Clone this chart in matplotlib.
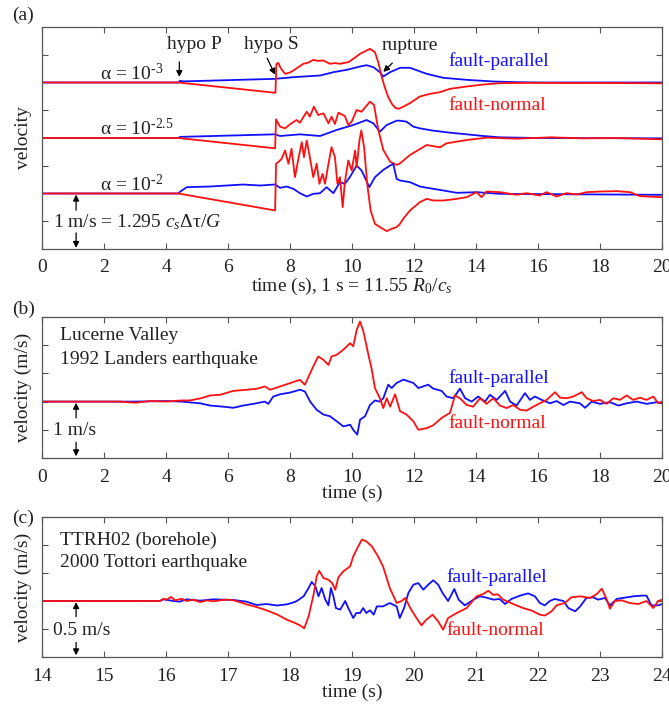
import numpy as np
import matplotlib
matplotlib.use("Agg")
import matplotlib.pyplot as plt

plt.rcParams['font.family'] = ['Liberation Serif', 'DejaVu Serif']
plt.rcParams['mathtext.fontset'] = 'custom'
plt.rcParams['mathtext.rm'] = 'Liberation Serif'
plt.rcParams['mathtext.it'] = 'Liberation Serif:italic'

RED = '#ff1010'
BLUE = '#1010ff'
INK = '#222222'

# ---------------- panel (a): simulated, offsets of 3, 2, 1 per alpha ----------------
a_offsets = [3, 2, 1]
a_labels = [r'α = 10$^{\text{-3}}$', r'α = 10$^{\text{-2.5}}$', r'α = 10$^{\text{-2}}$']

a3_normal_t = [0, 4.4, 7.53, 7.56, 7.62, 7.7, 7.84, 8.0, 8.11, 8.43, 8.6, 8.75, 8.9, 9.07, 9.29, 9.45,
               9.61, 9.88, 10.05, 10.26, 10.45, 10.58, 10.74, 10.85, 10.96, 11.06, 11.17, 11.28, 11.39,
               11.5, 11.62, 11.87, 12.19, 12.52, 12.84, 13.16, 13.7, 14.24, 14.77, 15.85, 17.0, 18.5, 20.0]
a3_normal_v = [0, 0, -0.186, 0.33, 0.355, 0.26, 0.156, 0.18, 0.216, 0.337, 0.36, 0.408, 0.39, 0.397,
               0.337, 0.35, 0.337, 0.367, 0.43, 0.517, 0.57, 0.607, 0.547, 0.36, 0.096, -0.09, -0.264,
               -0.38, -0.455, -0.474, -0.445, -0.372, -0.252, -0.204, -0.174, -0.114, -0.072, -0.036,
               -0.012, -0.006, -0.01, -0.01, -0.015]
a3_parallel_t = [0, 4.40, 4.45, 4.55, 7.52, 8.11, 8.97, 9.4, 9.83, 10.26, 10.47, 10.69, 10.9, 11.01,
                 11.23, 11.55, 11.87, 12.41, 12.95, 13.7, 14.56, 15.3, 16.0, 20.0]
a3_parallel_v = [0, 0, 0.03, 0.02, 0.066, 0.096, 0.126, 0.186, 0.228, 0.288, 0.312, 0.276, 0.186, 0.108,
                 0.186, 0.265, 0.265, 0.156, 0.084, 0.048, 0.018, 0.006, 0.0, 0.0]

a25_normal_t = [0, 4.4, 7.52, 7.55, 7.68, 7.84, 8.0, 8.21, 8.32, 8.54, 8.64, 8.77, 8.91, 9.08, 9.24,
                9.34, 9.45, 9.56, 9.77, 9.88, 9.99, 10.15, 10.31, 10.58, 10.71, 10.85, 11.01, 11.23,
                11.44, 11.55, 11.87, 12.41, 12.84, 13.05, 13.7, 14.34, 15.31, 16.4, 17.46, 18.5, 20.0]
a25_normal_v = [0, 0, -0.186, 0.336, 0.204, 0.174, 0.246, 0.324, 0.276, 0.474, 0.384, 0.565, 0.414,
                0.444, 0.264, 0.384, 0.252, 0.456, 0.396, 0.234, 0.294, 0.504, 0.474, 0.655, 0.595,
                0.144, -0.216, -0.426, -0.486, -0.456, -0.306, -0.126, -0.168, -0.096, -0.036, 0.006,
                -0.012, 0.012, -0.006, 0.0, -0.024]
a25_parallel_t = [0, 4.4, 4.45, 7.52, 7.68, 8.32, 8.97, 9.5, 10.04, 10.47, 10.69, 10.9, 11.12, 11.44,
                  11.55, 11.76, 11.98, 12.19, 12.62, 13.16, 13.7, 14.24, 14.77, 16.0, 20.0]
a25_parallel_v = [0, 0, 0.02, 0.066, 0.036, 0.066, 0.036, 0.144, 0.234, 0.324, 0.264, 0.114, 0.234,
                  0.312, 0.312, 0.294, 0.204, 0.174, 0.132, 0.096, 0.066, 0.036, 0.012, 0.0, -0.006]

a2_normal_t = [0, 4.4, 7.52, 7.55, 7.62, 7.73, 7.84, 7.95, 8.05, 8.16, 8.27, 8.38, 8.45, 8.54, 8.64,
               8.75, 8.86, 8.95, 9.05, 9.13, 9.24, 9.34, 9.45, 9.53, 9.61, 9.7, 9.77, 9.88, 9.99,
               10.1, 10.15, 10.24, 10.3, 10.39, 10.49, 10.6, 10.74, 10.9, 11.12, 11.28, 11.44, 11.55,
               11.66, 11.87, 12.19, 12.41, 12.62, 12.95, 13.38, 13.7, 14.02, 14.18, 14.34, 14.77,
               15.31, 15.63, 16.06, 16.28, 16.6, 16.92, 17.25, 17.57, 18.0, 18.54, 18.97, 19.29, 20.0]
a2_normal_v = [0, 0, -0.306, 0.535, 0.565, 0.625, 0.775, 0.535, 0.805, 0.294, 0.625, 0.925, 0.655,
               0.955, 0.655, 0.294, 0.535, 0.175, 0.354, 0.175, 0.535, 0.835, 0.655, 0.175, 0.294,
               -0.246, 0.204, 0.595, 0.414, 0.775, 0.475, 0.955, 1.135, 0.835, 0.175, -0.306,
               -0.546, -0.606, -0.678, -0.636, -0.606, -0.546, -0.45, -0.306, -0.156, -0.096,
               -0.126, -0.126, -0.096, -0.066, 0.024, -0.066, 0.036, 0.024, -0.024, 0.006, -0.036,
               0.024, -0.054, 0.006, -0.018, 0.024, 0.036, 0.042, 0.024, -0.048, -0.066]
a2_parallel_t = [0, 4.4, 4.45, 4.67, 5.42, 5.96, 6.49, 7.03, 7.52, 7.68, 7.89, 8.11, 8.32, 8.54, 8.75,
                 8.97, 9.18, 9.4, 9.61, 9.77, 9.93, 10.15, 10.31, 10.56, 10.74, 11.01, 11.23, 11.33,
                 11.44, 11.55, 11.87, 12.19, 12.62, 12.95, 13.38, 14.02, 14.77, 20.0]
a2_parallel_v = [0, 0, 0.03, 0.114, 0.126, 0.144, 0.162, 0.144, 0.162, 0.102, 0.126, 0.084, 0.006,
                 -0.054, -0.006, 0.006, 0.114, 0.006, 0.204, 0.174, 0.294, 0.504, 0.414, 0.114, 0.294,
                 0.426, 0.504, 0.535, 0.264, 0.234, 0.204, 0.126, 0.084, 0.054, 0.012, 0.024, -0.006,
                 -0.024]

# ---------------- panel (b): Lucerne Valley, 1992 Landers ----------------
b_normal_t = [0, 2.5, 3.0, 3.5, 4.0, 4.5, 4.77, 5.15, 5.42, 5.74, 6.17, 6.6, 6.92, 7.19, 7.36, 7.68,
              8.0, 8.32, 8.48, 8.75, 8.91, 9.08, 9.24, 9.34, 9.51, 9.72, 9.94, 10.04, 10.15, 10.26,
              10.37, 10.53, 10.63, 10.74, 10.9, 11.01, 11.12, 11.23, 11.39, 11.55, 11.76, 11.98,
              12.14, 12.41, 12.62, 12.89, 13.16, 13.32, 13.48, 13.7, 13.91, 14.13, 14.34, 14.56,
              14.77, 14.99, 15.2, 15.42, 15.63, 15.85, 16.06, 16.28, 16.55, 16.71, 16.92, 17.14,
              17.41, 17.57, 17.78, 18.0, 18.21, 18.43, 18.64, 18.86, 19.07, 19.29, 19.5, 19.72,
              19.88, 20.0]
b_normal_v = [0, 0.0, -0.02, 0.01, 0.0, 0.02, 0.02, 0.062, 0.109, 0.12, 0.19, 0.21, 0.227, 0.268,
              0.21, 0.268, 0.327, 0.386, 0.298, 0.623, 0.80, 0.74, 0.65, 0.80, 0.83, 0.92, 1.035,
              0.98, 1.27, 1.42, 1.24, 0.83, 0.59, 0.24, 0.06, -0.115, 0.06, -0.09, 0.13, -0.17,
              -0.23, -0.35, -0.5, -0.47, -0.42, -0.29, -0.2, 0.109, 0.06, -0.06, -0.09, 0.06, -0.04,
              0.06, -0.07, -0.115, -0.06, -0.145, -0.16, -0.09, -0.03, 0.03, 0.167, 0.07, 0.06,
              0.09, 0.167, 0.06, 0.01, 0.03, -0.04, 0.06, 0.03, 0.109, 0.03, 0.07, 0.03, 0.09,
              -0.03, 0.0]
b_parallel_t = [0, 3.0, 4.0, 4.5, 5.1, 5.42, 5.85, 6.17, 6.49, 6.82, 7.19, 7.3, 7.46, 7.68, 8.0, 8.32,
                8.48, 8.65, 8.86, 9.08, 9.29, 9.51, 9.72, 9.94, 10.04, 10.17, 10.26, 10.42, 10.58,
                10.74, 10.9, 11.01, 11.17, 11.28, 11.44, 11.66, 11.82, 11.98, 12.14, 12.19, 12.46,
                12.62, 12.89, 13.05, 13.27, 13.48, 13.65, 13.86, 14.07, 14.29, 14.45, 14.67, 14.94,
                15.1, 15.31, 15.58, 15.74, 15.9, 16.12, 16.39, 16.6, 16.82, 17.03, 17.35, 17.52,
                17.73, 18.0, 18.32, 18.59, 18.86, 19.18, 19.5, 19.83, 20.0]
b_parallel_v = [0, 0.0, 0.01, 0.0, -0.03, -0.07, -0.09, -0.11, -0.07, -0.04, 0.0, -0.04, 0.09, 0.13,
                0.16, 0.21, 0.18, 0.0, -0.145, -0.23, -0.26, -0.35, -0.44, -0.41, -0.5, -0.586,
                -0.32, -0.26, -0.06, 0.02, 0.0, 0.06, 0.30, 0.24, 0.33, 0.39, 0.36, 0.33, 0.24, 0.25,
                0.30, 0.23, 0.19, 0.09, 0.06, 0.23, 0.06, 0.0, 0.09, 0.0, 0.12, 0.03, 0.19, 0.0,
                -0.07, 0.15, 0.03, 0.09, 0.03, -0.03, 0.01, -0.06, 0.0, -0.03, -0.11, 0.0, -0.04,
                -0.01, -0.07, -0.03, 0.0, -0.04, -0.01, -0.03]

# ---------------- panel (c): TTRH02, 2000 Tottori ----------------
c_normal_t = [14, 15.9, 15.96, 16.01, 16.08, 16.15, 16.25, 16.33, 16.44, 16.55, 16.66, 16.76, 16.87,
              16.98, 17.09, 17.19, 17.3, 17.46, 17.62, 17.79, 17.95, 18.08, 18.16, 18.23, 18.3, 18.38,
              18.43, 18.47, 18.54, 18.62, 18.68, 18.73, 18.78, 18.86, 18.97, 19.02, 19.1, 19.16,
              19.23, 19.32, 19.42, 19.5, 19.61, 19.72, 19.8, 19.86, 19.94, 20.04, 20.12, 20.2, 20.3,
              20.39, 20.47, 20.55, 20.69, 20.85, 21.01, 21.12, 21.2, 21.28, 21.35, 21.44, 21.6,
              21.76, 21.9, 22.03, 22.11, 22.22, 22.3, 22.43, 22.54, 22.68, 22.84, 22.95, 23.03,
              23.11, 23.16, 23.24, 23.35, 23.48, 23.62, 23.75, 23.86, 23.94, 24.0]
c_normal_v = [0, 0, 0.02, 0.012, 0.036, 0.006, 0.02, 0.0, 0.012, -0.01, 0.006, -0.003, 0.006, 0.012,
              0.006, -0.01, -0.03, -0.054, -0.083, -0.12, -0.167, -0.196, -0.217, -0.244, -0.137,
              0.057, 0.22, 0.27, 0.205, 0.19, 0.16, 0.1, 0.211, 0.265, 0.31, 0.398, 0.488, 0.548,
              0.533, 0.488, 0.398, 0.31, 0.116, -0.018, 0.0, 0.027, -0.063, -0.152, -0.217, -0.167,
              -0.122, -0.182, -0.256, -0.152, -0.107, -0.063, 0.042, 0.063, 0.092, 0.054, 0.06,
              0.012, -0.027, -0.063, -0.086, -0.122, -0.13, -0.092, -0.039, -0.018, 0.033, 0.042,
              0.027, 0.063, 0.11, 0.012, -0.069, 0.0, 0.006, -0.018, -0.027, 0.0, -0.063, 0.0, 0.012]
c_parallel_t = [14, 15.9, 15.96, 16.12, 16.22, 16.33, 16.55, 16.76, 17.09, 17.3, 17.46, 17.62, 17.79,
                17.95, 18.07, 18.11, 18.22, 18.3, 18.35, 18.41, 18.46, 18.51, 18.57, 18.62, 18.66,
                18.7, 18.74, 18.81, 18.89, 18.94, 19.02, 19.07, 19.13, 19.18, 19.23, 19.29, 19.35,
                19.4, 19.5, 19.61, 19.72, 19.77, 19.84, 19.91, 19.99, 20.07, 20.15, 20.23, 20.31,
                20.39, 20.46, 20.55, 20.65, 20.72, 20.82, 20.96, 21.06, 21.17, 21.28, 21.38, 21.47,
                21.57, 21.71, 21.84, 21.95, 22.03, 22.11, 22.19, 22.27, 22.41, 22.49, 22.6, 22.68,
                22.78, 22.89, 22.97, 23.08, 23.16, 23.27, 23.4, 23.54, 23.67, 23.75, 23.83, 23.94,
                24.0]
c_parallel_v = [0, 0, 0.015, 0.0, -0.006, 0.015, 0.003, 0.015, 0.009, -0.006, -0.036, -0.027, -0.04,
                -0.03, -0.01, 0.0, 0.042, 0.116, 0.17, 0.131, 0.042, 0.116, 0.012, -0.039, 0.116,
                0.042, -0.063, -0.077, 0.0, -0.063, -0.152, -0.107, -0.107, -0.063, -0.107, -0.083,
                -0.122, -0.048, -0.048, -0.018, -0.048, -0.152, -0.063, 0.072, 0.146, 0.16, 0.101,
                0.146, 0.185, 0.146, 0.072, 0.0, 0.107, 0.012, -0.039, 0.012, 0.042, 0.03, 0.012,
                0.018, -0.027, 0.018, 0.048, 0.068, 0.042, -0.018, -0.039, 0.0, 0.018, 0.0, -0.063,
                -0.092, -0.048, 0.027, 0.033, 0.012, 0.027, -0.039, 0.018, 0.03, 0.042, 0.048, 0.048,
                -0.039, -0.039, -0.027]

FS = 14
W, H = 669, 704
fig = plt.figure(figsize=(W / 100, H / 100), dpi=100)


def make_axes(left, top, right, bottom, pad=8):
    ax = fig.add_axes([left / W, 1 - bottom / H, (right - left) / W, (bottom - top) / H])
    for s in ax.spines.values():
        s.set_color('#555555')
        s.set_linewidth(0.9)
    ax.tick_params(direction='in', length=4, width=0.8, color='#555555', top=True, right=True,
                   labelleft=False, labelsize=FS, labelcolor=INK, pad=pad)
    return ax


def arrow(ax, x0, y0, x1, y1):
    ax.annotate('', xy=(x1, y1), xytext=(x0, y0),
                arrowprops=dict(arrowstyle='-|>', color='black', lw=0.9,
                                mutation_scale=9, shrinkA=0, shrinkB=0))


# ---- (a)
ax = make_axes(42, 27, 662, 249, pad=7)
traces = [(a3_normal_t, a3_normal_v, a3_parallel_t, a3_parallel_v),
          (a25_normal_t, a25_normal_v, a25_parallel_t, a25_parallel_v),
          (a2_normal_t, a2_normal_v, a2_parallel_t, a2_parallel_v)]
for off, lab, (nt, nv, pt, pv) in zip(a_offsets, a_labels, traces):
    ax.plot(pt, np.array(pv) + off, color=BLUE, lw=1.3)
    ax.plot(nt, np.array(nv) + off, color=RED, lw=1.3)
    ax.text(1.87, off + 0.17, lab, fontsize=FS, color=INK, va='center', ha='left')
ax.set_xlim(0, 20)
ax.set_ylim(0, 4)
ax.set_xticks(np.arange(0, 21, 2))
ax.set_yticks([0.5, 1.5, 2.5, 3.5])
ax.set_xlabel('time (s), 1 s = 11.55 $R_0/c_s$', fontsize=FS, color=INK, labelpad=0)
ax.text(4.9, 3.68, 'hypo P', fontsize=FS, color=INK, ha='center', va='center')
ax.text(7.4, 3.68, 'hypo S', fontsize=FS, color=INK, ha='center', va='center')
ax.text(11.85, 3.66, 'rupture', fontsize=FS, color=INK, ha='center', va='center')
arrow(ax, 4.43, 3.37, 4.43, 3.1)
arrow(ax, 7.26, 3.44, 7.52, 3.14)
arrow(ax, 11.3, 3.35, 11.01, 3.19)
ax.text(13.1, 3.39, 'fault-parallel', fontsize=FS, color=BLUE, va='center')
ax.text(13.1, 2.58, 'fault-normal', fontsize=FS, color=RED, va='center')
ax.text(0.36, 0.49, '1 m/s = 1.295 $c_s$Δτ/$G$', fontsize=FS, color=INK, va='center')
arrow(ax, 1.1, 0.7, 1.1, 0.98)
arrow(ax, 1.1, 0.29, 1.1, 0.02)
fig.text(12 / W, 1 - 15 / H, '(a)', fontsize=FS, color=INK, va='center')
fig.text(23 / W, 1 - 138 / H, 'velocity', fontsize=FS, color=INK, rotation=90,
         ha='center', va='center')

# ---- (b)
ax = make_axes(42, 317, 662, 458)
ax.plot(b_parallel_t, b_parallel_v, color=BLUE, lw=1.3)
ax.plot(b_normal_t, b_normal_v, color=RED, lw=1.3)
ax.set_xlim(0, 20)
ax.set_ylim(-1, 1.5)
ax.set_xticks(np.arange(0, 21, 2))
ax.set_yticks(np.arange(-1, 1.51, 0.5))
ax.set_xlabel('time (s)', fontsize=FS, color=INK, labelpad=-1)
ax.text(0.58, 1.18, 'Lucerne Valley', fontsize=FS, color=INK, va='center')
ax.text(0.58, 0.75, '1992 Landers earthquake', fontsize=FS, color=INK, va='center')
ax.text(0.36, -0.52, '1 m/s', fontsize=FS, color=INK, va='center')
arrow(ax, 1.1, -0.29, 1.1, -0.02)
arrow(ax, 1.1, -0.72, 1.1, -0.97)
ax.text(13.1, 0.42, 'fault-parallel', fontsize=FS, color=BLUE, va='center')
ax.text(13.1, -0.38, 'fault-normal', fontsize=FS, color=RED, va='center')
fig.text(12 / W, 1 - 309 / H, '(b)', fontsize=FS, color=INK, va='center')
fig.text(23 / W, 1 - 387 / H, 'velocity (m/s)', fontsize=FS, color=INK, rotation=90,
         ha='center', va='center')

# ---- (c)
ax = make_axes(42, 517, 662, 657)
ax.plot(c_parallel_t, c_parallel_v, color=BLUE, lw=1.3)
ax.plot(c_normal_t, c_normal_v, color=RED, lw=1.3)
ax.set_xlim(14, 24)
ax.set_ylim(-0.5, 0.75)
ax.set_xticks(np.arange(14, 25, 1))
ax.set_yticks(np.arange(-0.5, 0.76, 0.25))
ax.set_xlabel('time (s)', fontsize=FS, color=INK, labelpad=-1)
ax.text(14.29, 0.545, 'TTRH02 (borehole)', fontsize=FS, color=INK, va='center')
ax.text(14.29, 0.34, '2000 Tottori earthquake', fontsize=FS, color=INK, va='center')
ax.text(14.18, -0.26, '0.5 m/s', fontsize=FS, color=INK, va='center')
arrow(ax, 14.55, -0.14, 14.55, -0.01)
arrow(ax, 14.55, -0.37, 14.55, -0.485)
ax.text(20.53, 0.21, 'fault-parallel', fontsize=FS, color=BLUE, va='center')
ax.text(20.53, -0.26, 'fault-normal', fontsize=FS, color=RED, va='center')
fig.text(12 / W, 1 - 518 / H, '(c)', fontsize=FS, color=INK, va='center')
fig.text(23 / W, 1 - 587 / H, 'velocity (m/s)', fontsize=FS, color=INK, rotation=90,
         ha='center', va='center')

fig.savefig('out.png', dpi=100)
